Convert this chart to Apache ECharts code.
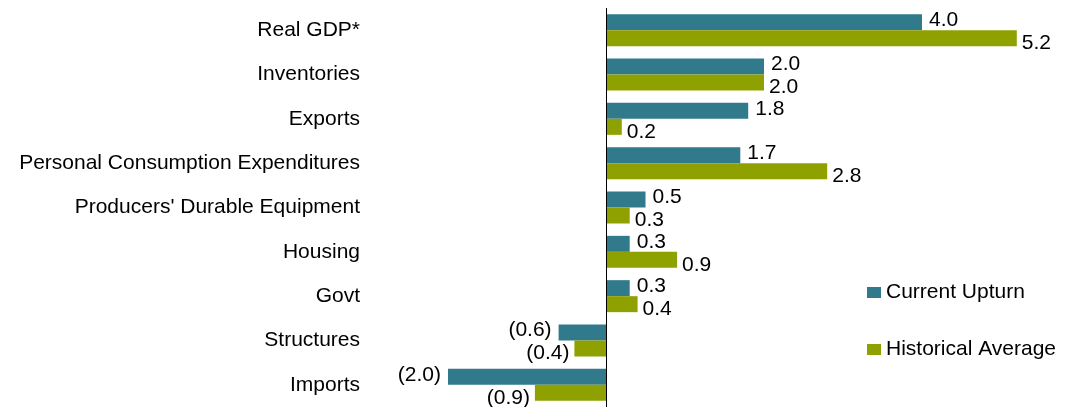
<!DOCTYPE html>
<html>
<head>
<meta charset="utf-8">
<script src="https://cdn.jsdelivr.net/npm/echarts@6/dist/echarts.min.js"></script>
<style>html,body{margin:0;padding:0;background:#fff}#c{width:1075px;height:407px}</style>
</head>
<body>
<div id="c"></div>
<script>
const categories = ["Real GDP*", "Inventories", "Exports", "Personal Consumption Expenditures", "Producers' Durable Equipment", "Housing", "Govt", "Structures", "Imports"];
const currentUpturn = [4.0, 2.0, 1.8, 1.7, 0.5, 0.3, 0.3, -0.6, -2.0];
const historicalAverage = [5.2, 2.0, 0.2, 2.8, 0.3, 0.9, 0.4, -0.4, -0.9];
const seriesNames = ["Current Upturn", "Historical Average"];

const FONT = "Liberation Sans, Arial, sans-serif";
const FS = 21;
const fmt = v => { const x = v.value; return x < 0 ? "(" + Math.abs(x).toFixed(1) + ")" : x.toFixed(1); };

function labelCfg(offsetY, dist) {
  return {
    show: true,
    formatter: fmt,
    fontFamily: FONT,
    fontSize: FS,
    color: "#000",
    distance: dist,
    offset: [0, offsetY]
  };
}
function buildData(arr, offsetY, dist) {
  return arr.map(v => ({
    value: v,
    label: Object.assign(labelCfg(offsetY, dist), { position: v < 0 ? "left" : "right" })
  }));
}

const chart = echarts.init(document.getElementById("c"));
chart.setOption({
  animation: false,
  backgroundColor: "#fff",
  grid: { left: 369, right: 34.5, top: 8, bottom: 0 },
  legend: {
    orient: "vertical",
    left: 867,
    top: 282,
    padding: 0,
    itemGap: 36,
    itemWidth: 14,
    itemHeight: 11,
    icon: "rect",
    textStyle: { fontFamily: FONT, fontSize: FS, color: "#000" },
    data: seriesNames
  },
  xAxis: {
    type: "value",
    min: -3,
    max: 5.5,
    show: false
  },
  yAxis: {
    type: "category",
    data: categories,
    inverse: true,
    axisLine: { show: false },
    axisTick: { show: false },
    splitLine: { show: false },
    axisLabel: { fontFamily: FONT, fontSize: FS, color: "#000", margin: 9 }
  },
  series: [
    {
      name: seriesNames[0],
      type: "bar",
      data: buildData(currentUpturn, -2, 7),
      barWidth: 16,
      barGap: "0%",
      itemStyle: { color: "#317A8C" },
      markLine: {
        silent: true,
        symbol: "none",
        label: { show: false },
        lineStyle: { color: "#000", width: 1, type: "solid" },
        data: [{ xAxis: 0 }]
      }
    },
    {
      name: seriesNames[1],
      type: "bar",
      data: buildData(historicalAverage, 5, 5),
      barWidth: 16,
      barGap: "0%",
      itemStyle: { color: "#8FA100" }
    }
  ]
});
</script>
</body>
</html>
